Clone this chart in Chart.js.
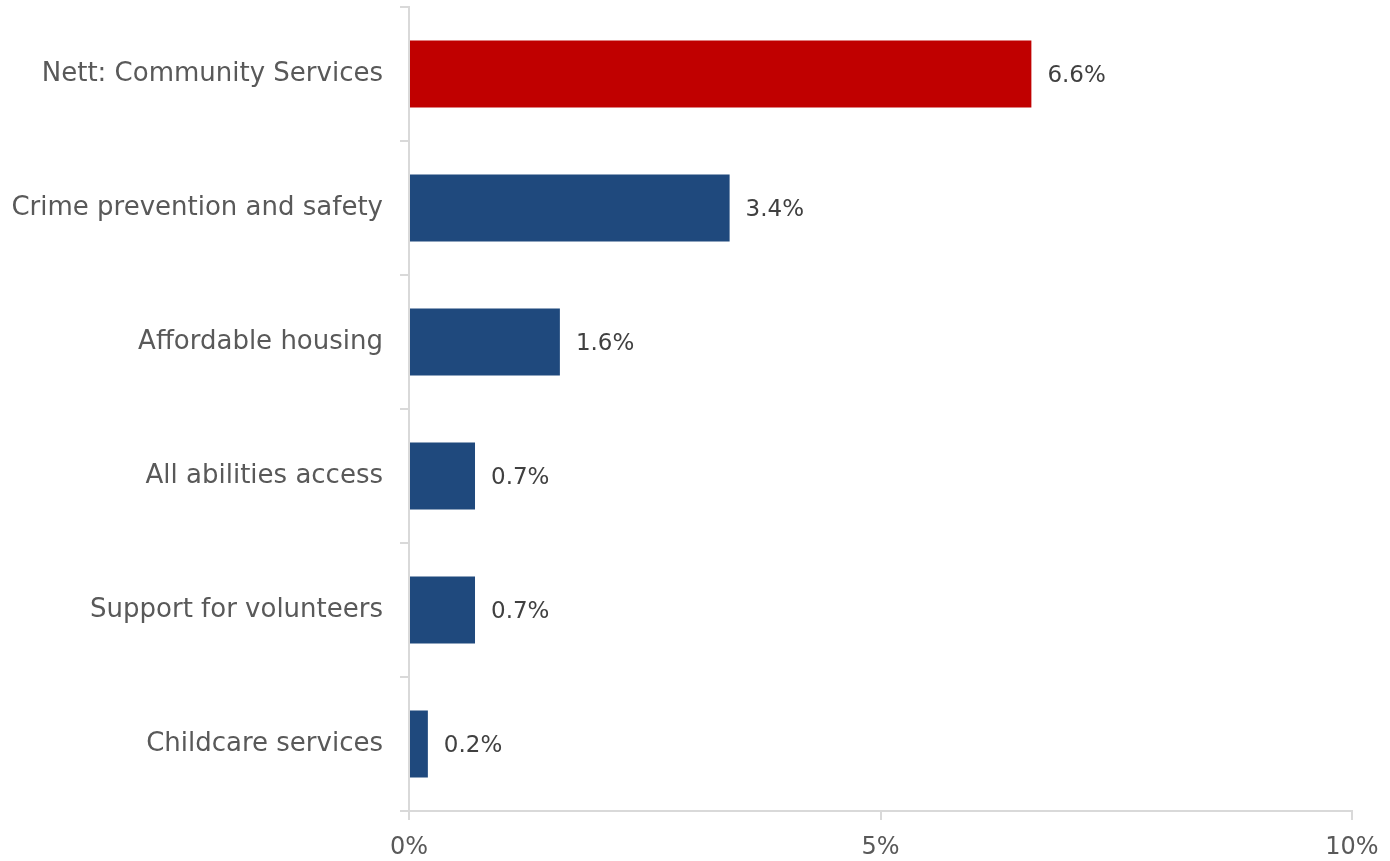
<!DOCTYPE html>
<html>
<head>
<meta charset="utf-8">
<script src="https://cdn.jsdelivr.net/npm/chart.js@4/dist/chart.umd.min.js"></script>
<style>
  html, body { margin: 0; padding: 0; background: #fff; }
  #wrap { width: 1390px; height: 861px; position: relative; }
</style>
</head>
<body>
<div id="wrap"><canvas id="chart"></canvas></div>
<script>
// categories and shares (percent)
const categories = [
  'Nett: Community Services',
  'Crime prevention and safety',
  'Affordable housing',
  'All abilities access',
  'Support for volunteers',
  'Childcare services'
];
const shares = [6.6, 3.4, 1.6, 0.7, 0.7, 0.2];
const barColors = ['#C00000', '#1F497D', '#1F497D', '#1F497D', '#1F497D', '#1F497D'];
const xTicks = [0, 5, 10];

const FONT = '"DejaVu Sans", sans-serif';
const AXIS_GREY = '#D9D9D9';

// value labels at the end of each bar
const barValueLabels = {
  id: 'barValueLabels',
  afterDatasetsDraw(chart) {
    const ctx = chart.ctx;
    const meta = chart.getDatasetMeta(0);
    ctx.save();
    ctx.font = '23px ' + FONT;
    ctx.fillStyle = '#404040';
    ctx.textAlign = 'left';
    ctx.textBaseline = 'middle';
    meta.data.forEach((bar, i) => {
      ctx.fillText(shares[i].toFixed(1) + '%', bar.x + 16, bar.y + 2);
    });
    ctx.restore();
  }
};

new Chart(document.getElementById('chart'), {
  type: 'bar',
  data: {
    labels: categories,
    datasets: [{
      data: shares,
      backgroundColor: barColors,
      borderWidth: 0,
      barPercentage: 0.5,
      categoryPercentage: 1.0
    }]
  },
  options: {
    indexAxis: 'y',
    responsive: true,
    maintainAspectRatio: false,
    animation: false,
    layout: { padding: { top: 7, right: 38, left: 0, bottom: 0 } },
    plugins: {
      legend: { display: false },
      tooltip: { enabled: false }
    },
    scales: {
      x: {
        min: 0,
        max: 10,
        afterBuildTicks: (scale) => { scale.ticks = xTicks.map(v => ({ value: v })); },
        afterFit: (scale) => {
          scale.height = 50;
          scale.paddingLeft = 0;
          scale.paddingRight = 0;
        },
        grid: {
          drawOnChartArea: false,
          drawTicks: true,
          tickLength: 9,
          color: AXIS_GREY,
          lineWidth: 2
        },
        border: { display: true, color: AXIS_GREY, width: 2 },
        ticks: {
          padding: 13,
          color: '#595959',
          font: { family: FONT, size: 24 },
          callback: (v) => v + '%'
        }
      },
      y: {
        afterFit: (scale) => {
          scale.width = 409;
          scale.paddingTop = 0;
          scale.paddingBottom = 0;
        },
        grid: {
          drawOnChartArea: false,
          drawTicks: true,
          tickLength: 9,
          color: AXIS_GREY,
          lineWidth: 2,
          offset: true
        },
        border: { display: true, color: AXIS_GREY, width: 2 },
        ticks: {
          padding: 17,
          color: '#595959',
          font: { family: FONT, size: 26 }
        }
      }
    }
  },
  plugins: [barValueLabels]
});
</script>
</body>
</html>
